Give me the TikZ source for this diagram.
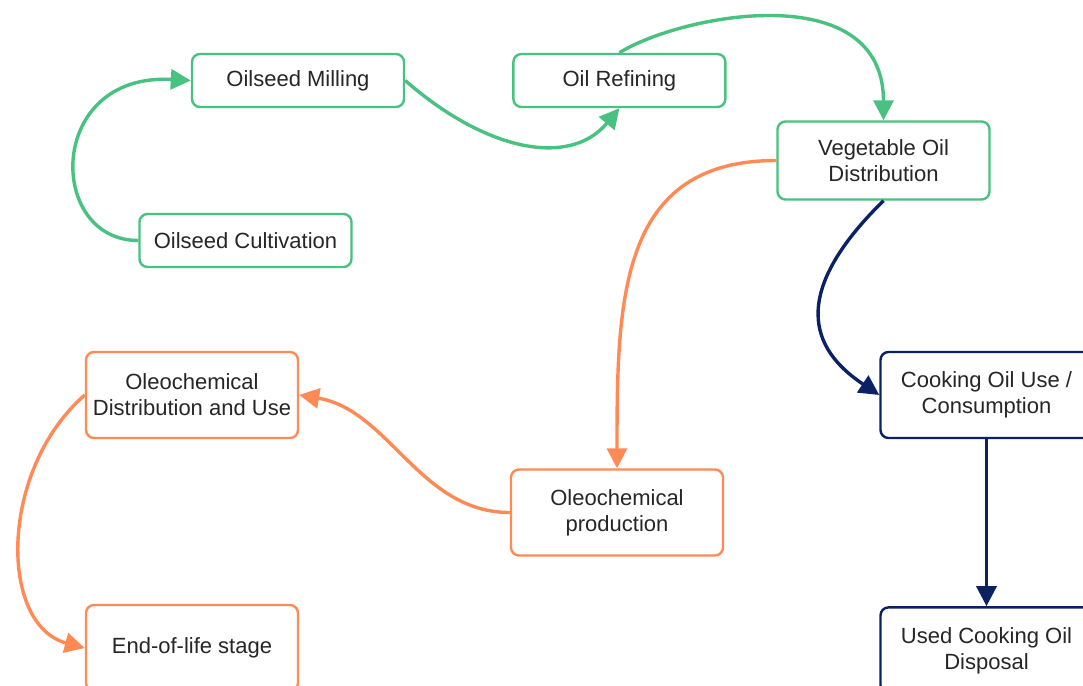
\documentclass[tikz,border=0pt]{standalone}
\usepackage{fontspec}
\setmainfont{Liberation Sans}
\usetikzlibrary{arrows.meta, positioning}
\definecolor{seedgreen}{RGB}{72,193,129}
\definecolor{chemorange}{RGB}{255,138,86}
\definecolor{cooknavy}{RGB}{10,34,100}
\tikzset{
  stage/.style={rectangle, rounded corners=4pt,
    minimum width=106pt, minimum height=26.5pt,
    text centered, fill=white, line width=1.2pt,
    font=\fontsize{11}{13}\selectfont, text=black!85, align=center},
  greenstage/.style={stage, draw=seedgreen},
  orangestage/.style={stage, draw=chemorange, minimum height=43pt},
  navystage/.style={stage, draw=cooknavy, minimum height=43pt},
  arr/.style={-{Triangle[length=10pt,width=10pt]}, line width=1.7pt},
  greenarr/.style={arr, draw=seedgreen},
  orangearr/.style={arr, draw=chemorange},
  navyarr/.style={arr, draw=cooknavy},
}

\begin{document}
\begin{tikzpicture}[x=0.5pt, y=-0.5pt]

\useasboundingbox (0,0) rectangle (1083,686);
\clip (0,0) rectangle (1083,686);

% Vegetable oil chain
\node (mill) [greenstage] at (298,80.5) {Oilseed Milling};
\node (ref)  [greenstage, right=53.5pt of mill] {Oil Refining};
\node (cult) [greenstage] at (245.5,240.5) {Oilseed Cultivation};
\node (veg)  [greenstage, minimum height=39pt] at (883.5,160.5)
  {Vegetable Oil\\Distribution};

% Oleochemicals
\node (prod)  [orangestage] at (617,512.5) {Oleochemical\\production};
\node (odist) [orangestage] at (192,395) {Oleochemical\\Distribution and Use};
\node (eol)   [orangestage] at (192,648) {End-of-life stage};

% Cooking oil
\node (cook) [navystage] at (986.5,395) {Cooking Oil Use /\\Consumption};
\node (disp) [navystage, below=83.5pt of cook] {Used Cooking Oil\\Disposal};

% Connectors
\draw[greenarr] (cult.west) .. controls +(-92,0) and +(-145,-8) .. (mill.west);
\draw[greenarr] (mill.east) .. controls +(80,70) and +(-50,60) .. (ref.south);
\draw[greenarr] (ref.north) .. controls +(60,-38) and +(0,-145) .. (veg.north);
\draw[navyarr] (veg.south) .. controls +(-103,101) and +(-60,-40) .. (cook.west);
\draw[orangearr] (veg.west) .. controls +(-157,0) and +(0,-170) .. (prod.north);
\draw[orangearr] (prod.west) .. controls +(-90,0) and +(90,15) .. (odist.east);
\draw[orangearr] (odist.west) .. controls +(-86,75) and +(-86,-23) .. (eol.west);
\draw[navyarr] (cook) -- (disp);

\end{tikzpicture}
\end{document}
